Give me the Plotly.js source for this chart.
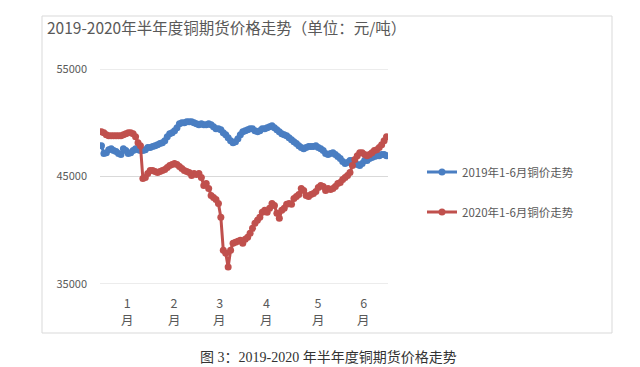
<!DOCTYPE html>
<html>
<head>
<meta charset="utf-8">
<script src="https://cdn.plot.ly/plotly-3.0.1.min.js"></script>
<style>html,body{margin:0;padding:0;background:#fff;}#chart{width:640px;height:367px;}</style>
</head>
<body>
<div id="chart"></div>
<script>
// 2019 1-6月铜价 (元/吨), one value per trading day
const copper2019 = [47870,47130,47220,47500,47590,47410,47320,47130,47040,47590,47410,47130,47220,47410,47590,47500,47410,47410,47500,47690,47690,47780,47870,47960,48060,48150,48330,48700,48980,49070,49260,49540,49910,50000,50000,50090,50090,50090,50000,49910,49820,49910,49820,49820,49910,49820,49630,49440,49440,49350,49070,48890,48610,48330,48150,48240,48520,48890,49170,49260,49350,49440,49440,49260,49170,49260,49440,49440,49540,49630,49720,49540,49350,49170,48980,48890,48800,48610,48430,48240,48060,47870,47690,47590,47690,47780,47780,47780,47870,47690,47590,47410,47130,47040,47130,47220,47040,46850,46670,46390,46200,46300,46480,46480,46300,46110,46020,46200,46480,46480,46670,46760,46850,46940,46940,47040,47040,46940];
// 2020 1-6月铜价 (元/吨)
const copper2020 = [49170,49070,48890,48800,48800,48800,48800,48800,48800,48890,48980,49070,49070,48980,48700,48150,47870,44810,44910,45280,45560,45560,45460,45370,45460,45560,45650,45830,46020,46110,46200,46110,45930,45740,45560,45460,45370,45090,45280,45190,45280,44910,44170,44350,43890,43240,43050,42870,42500,41200,38150,37870,36570,38150,38800,38890,38980,39070,38800,39170,39350,39720,40180,40650,40930,41200,41670,41850,41670,42040,42500,42310,41570,41110,41850,42040,42410,42500,42410,42960,43150,43330,43890,43700,43240,43150,43330,43430,43610,43980,44170,44070,43700,43890,43800,43890,44070,44350,44440,44720,44910,45090,45370,46020,46570,46940,47220,47220,47040,46940,47040,47220,47410,47500,47690,47960,48330,48700];
const seriesNames = ["2019年1-6月铜价走势", "2020年1-6月铜价走势"];
const monthLabels = ["1","2","3","4","5","6"];
const monthUnit = "月";
const monthTickPos = [10.6, 29.8, 48.5, 67.7, 88.9, 107.6];
const yTicks = [35000, 45000, 55000];
const chartTitle = "2019-2020年半年度铜期货价格走势（单位：元/吨）";
const caption = "图 3：2019-2020 年半年度铜期货价格走势";

const idx19 = copper2019.map((_, i) => i);
const idx20 = copper2020.map((_, i) => i);
const FONT = '"Noto Sans CJK SC", "Noto Sans", sans-serif';
const BLUE = '#4A7EC2', RED = '#C0504D';

const traces = [
  {x: idx19, y: copper2019, name: seriesNames[0], mode: 'lines+markers',
   line: {color: BLUE, width: 3}, marker: {color: BLUE, size: 7}, legend: 'legend'},
  {x: idx20, y: copper2020, name: seriesNames[1], mode: 'lines+markers',
   line: {color: RED, width: 3}, marker: {color: RED, size: 7}, legend: 'legend2'}
];

const L = 100, R = 252, T = 69, B = 83;
const pw = 640 - L - R, ph = 367 - T - B;
const px = v => (v - L) / pw;
const py = v => (367 - B - v) / ph;

const gridShapes = yTicks.map(v => ({type: 'line', xref: 'paper', yref: 'y', layer: 'below',
  x0: 0, x1: 1, y0: v, y1: v, line: {color: '#d9d9d9', width: 1}}));

const unitAnnotations = monthTickPos.map(p => ({text: monthUnit, xref: 'x', yref: 'paper',
  x: p, y: py(319), xanchor: 'center', yanchor: 'middle', showarrow: false,
  font: {family: FONT, size: 12.5, color: '#595959'}}));

const layout = {
  width: 640, height: 367,
  margin: {l: L, r: R, t: T, b: B},
  paper_bgcolor: '#fff', plot_bgcolor: '#fff',
  font: {family: FONT, color: '#595959', size: 11},
  title: {text: chartTitle, x: 47/640, xanchor: 'left', xref: 'container',
          y: 1 - 29/367, yanchor: 'middle', yref: 'container',
          font: {family: FONT, size: 15.5, color: '#595959'}},
  showlegend: true,
  xaxis: {range: [-0.6, copper2019.length - 0.4], tickmode: 'array', tickvals: monthTickPos,
          ticktext: monthLabels, showgrid: false, zeroline: false, showline: false,
          ticks: '', ticklabelstandoff: 10, tickfont: {size: 12.5, color: '#595959'}, fixedrange: true},
  yaxis: {range: [35000, 55000], tickmode: 'array', tickvals: yTicks, tickformat: 'd',
          showgrid: false, zeroline: false, showline: false,
          ticks: '', ticklabelstandoff: 12, tickfont: {size: 11, color: '#595959'}, fixedrange: true},
  legend: {x: px(422), xanchor: 'left', y: py(172), yanchor: 'middle',
           font: {size: 11.5, color: '#595959'}, bgcolor: 'rgba(0,0,0,0)'},
  legend2: {x: px(422), xanchor: 'left', y: py(212), yanchor: 'middle',
           font: {size: 11.5, color: '#595959'}, bgcolor: 'rgba(0,0,0,0)'},
  shapes: [{type: 'rect', xref: 'paper', yref: 'paper', layer: 'below',
            x0: px(42), x1: px(612), y0: py(333), y1: py(16),
            line: {color: '#d9d9d9', width: 1}, fillcolor: 'rgba(0,0,0,0)'}].concat(gridShapes),
  annotations: [{text: caption, xref: 'paper', yref: 'paper', x: px(328), y: py(357),
                 xanchor: 'center', yanchor: 'middle', showarrow: false,
                 font: {family: '"Liberation Serif", "Noto Sans CJK SC", serif', size: 14, color: '#333'}}].concat(unitAnnotations)
};

Plotly.newPlot('chart', traces, layout, {displayModeBar: false, staticPlot: true});
</script>
</body>
</html>
